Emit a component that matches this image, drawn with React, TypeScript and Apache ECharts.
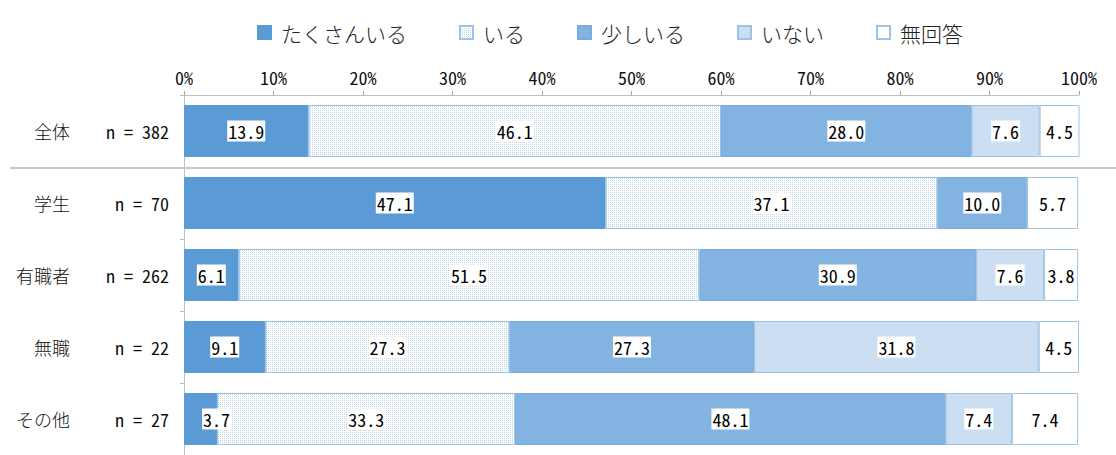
import React, { useEffect, useRef } from "react";
import * as echarts from "echarts";

const categories = ["全体", "学生", "有職者", "無職", "その他"];
const sampleSizes = ["n = 382", "n = 70", "n = 262", "n = 22", "n = 27"];
const seriesNames = ["たくさんいる", "いる", "少しいる", "いない", "無回答"];
const manyValues = [13.9, 47.1, 6.1, 9.1, 3.7];
const someValues = [46.1, 37.1, 51.5, 27.3, 33.3];
const fewValues = [28.0, 10.0, 30.9, 27.3, 48.1];
const noneValues = [7.6, 0, 7.6, 31.8, 7.4];
const noAnswerValues = [4.5, 5.7, 3.8, 4.5, 7.4];
const xTicks = [0, 10, 20, 30, 40, 50, 60, 70, 80, 90, 100];

const MONO = '"Noto Sans Mono CJK JP", "DejaVu Sans Mono", monospace';
const JP = '"Noto Sans CJK JP", sans-serif';

const seriesValues = [manyValues, someValues, fewValues, noneValues, noAnswerValues];

const styles: any[] = [
  { color: "#5B9BD5", borderColor: "#5B9BD5", borderWidth: 1 },
  {
    color: "#FFFFFF",
    borderColor: "#9DC3E6",
    borderWidth: 1,
    decal: {
      symbol: "rect",
      symbolSize: 1,
      dashArrayX: [1, 1],
      dashArrayY: [1, 1],
      color: "#BCD4EC",
      rotation: 0,
    },
  },
  { color: "#83B3E0", borderColor: "#7AACDC", borderWidth: 1 },
  { color: "#CCDFF2", borderColor: "#9DC3E6", borderWidth: 1 },
  { color: "#FFFFFF", borderColor: "#9DC3E6", borderWidth: 1 },
];

function buildOption() {
  return {
    animation: false,
    legend: {
      top: 17,
      left: 252,
      itemWidth: 13,
      itemHeight: 13,
      itemGap: 52,
      icon: "rect",
      data: seriesNames,
      textStyle: {
        fontFamily: JP,
        fontSize: 21,
        fontWeight: 300,
        color: "#222",
        padding: [0, 0, 0, 5],
      },
    },
    grid: { left: 184, right: 37, top: 95, height: 365, containLabel: false },
    xAxis: {
      type: "value",
      position: "top",
      min: 0,
      max: 100,
      interval: 10,
      axisLine: { show: true, lineStyle: { color: "#BFBFBF", width: 1 } },
      axisTick: { show: true, length: 4, lineStyle: { color: "#A6A6A6" } },
      splitLine: { show: false },
      axisLabel: {
        margin: 9,
        fontFamily: MONO,
        fontSize: 18,
        fontWeight: 300,
        color: "#111",
        formatter: (v: number) => (xTicks.includes(v) ? `${v}%` : ""),
      },
    },
    yAxis: [
      {
        type: "category",
        inverse: true,
        data: categories,
        axisLine: { show: true, lineStyle: { color: "#BFBFBF", width: 1 } },
        axisTick: { show: true, length: 4, lineStyle: { color: "#BFBFBF" } },
        axisLabel: {
          margin: 15,
          fontFamily: MONO,
          fontSize: 18,
          fontWeight: 300,
          color: "#111",
          formatter: (_v: string, i: number) => sampleSizes[i],
        },
      },
      {
        type: "category",
        inverse: true,
        position: "left",
        data: categories,
        axisLine: { show: false },
        axisTick: { show: false },
        axisLabel: {
          margin: 114,
          fontFamily: JP,
          fontSize: 18,
          fontWeight: 300,
          color: "#111",
        },
      },
    ],
    series: seriesNames.map((name, si) => ({
      name,
      type: "bar",
      stack: "total",
      yAxisIndex: 0,
      barWidth: 52,
      itemStyle: styles[si],
      label: {
        show: true,
        position: "inside",
        fontFamily: MONO,
        fontSize: 18,
        fontWeight: 300,
        color: "#000",
        backgroundColor: "#FFFFFF",
        padding: [2, 1, 1, 1],
        formatter: (p: any) => Number(p.value).toFixed(1),
      },
      data: seriesValues[si].map((v) => {
        if (v === 0) return { value: 0, label: { show: false } };
        if (si === 0 && v < 5) return { value: v, label: { offset: [16, 0] } };
        return v;
      }),
    })),
  };
}

export default function App() {
  const ref = useRef<HTMLDivElement>(null);
  useEffect(() => {
    if (!ref.current) return;
    const chart = echarts.init(ref.current, null, { renderer: "svg" });
    chart.setOption(buildOption() as any);
    const y0 = chart.convertToPixel({ yAxisIndex: 0 }, categories[0]) as number;
    const y1 = chart.convertToPixel({ yAxisIndex: 0 }, categories[1]) as number;
    const ySep = Math.round((y0 + y1) / 2) + 1;
    chart.setOption({
      graphic: [
        {
          type: "line",
          shape: { x1: 10, y1: ySep, x2: 1116, y2: ySep },
          style: { stroke: "#C8C8C8", lineWidth: 2 },
          z: 10,
        },
      ],
    });
    return () => chart.dispose();
  }, []);
  return (
    <div
      ref={ref}
      style={{ position: "fixed", left: 0, top: 0, width: 1116, height: 455, background: "#fff" }}
    />
  );
}
